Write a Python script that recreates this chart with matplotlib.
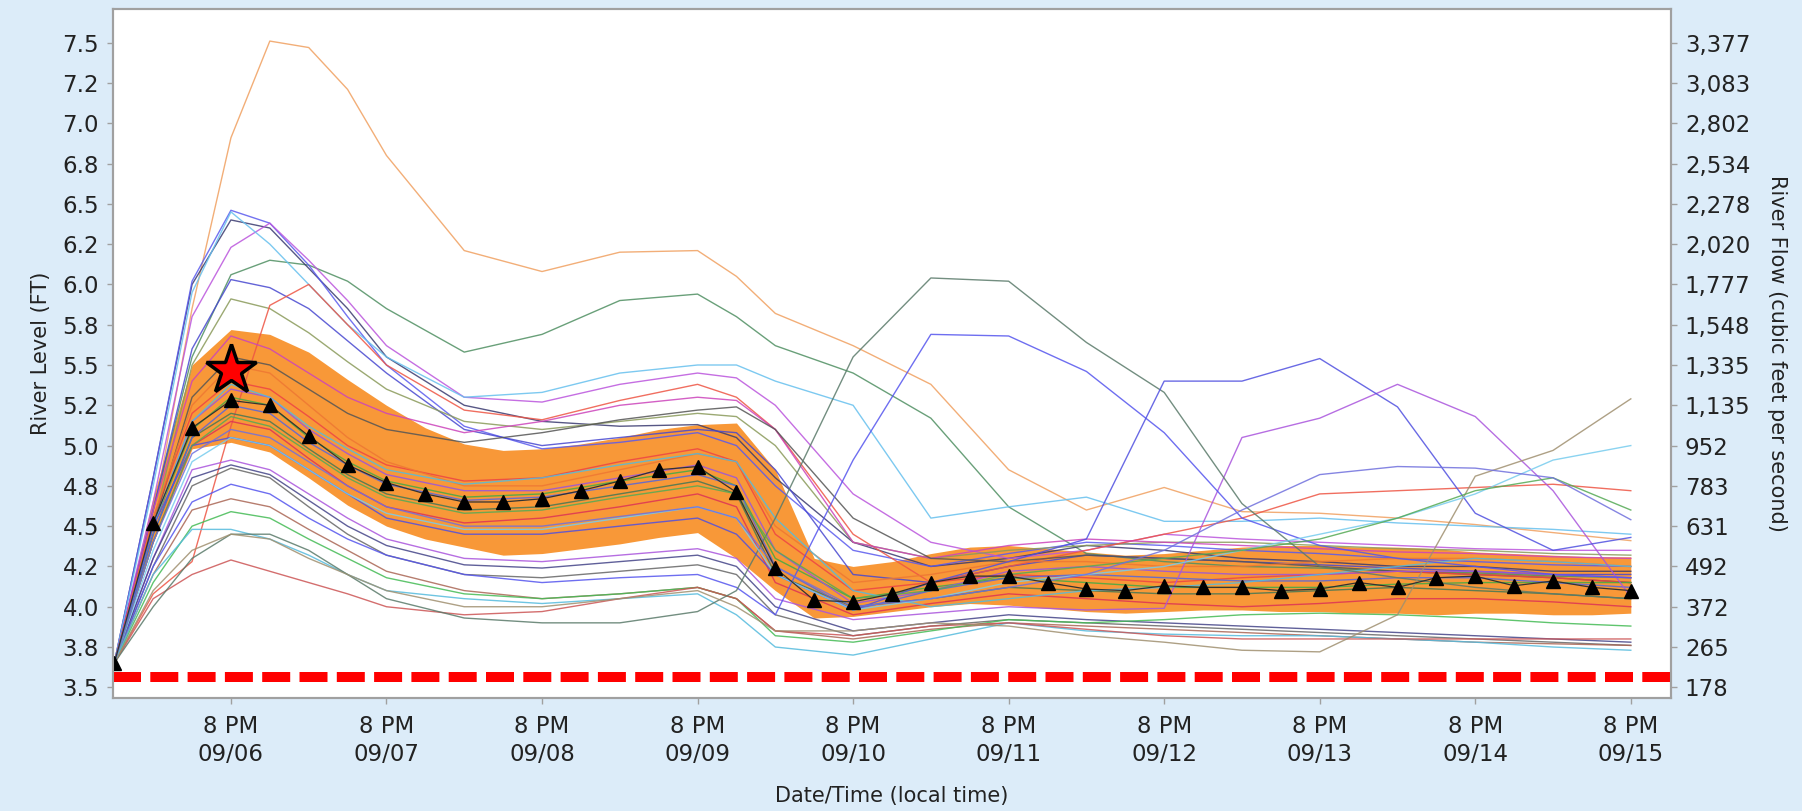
import matplotlib
matplotlib.use("Agg")
import matplotlib.pyplot as plt
from matplotlib.ticker import FormatStrFormatter

plt.rcParams['font.family'] = ['DejaVu Sans']

# hours after 2 AM 09/06, every 6 hours
forecast_hours = list(range(0, 235, 6))
median_level = [3.65, 4.52, 5.11, 5.28, 5.25, 5.06, 4.88, 4.77, 4.70, 4.65,
                4.65, 4.67, 4.72, 4.78, 4.85, 4.87, 4.71, 4.24, 4.04, 4.03,
                4.08, 4.15, 4.19, 4.19, 4.15, 4.11, 4.10, 4.13, 4.12, 4.12,
                4.10, 4.11, 4.15, 4.12, 4.18, 4.19, 4.13, 4.16, 4.12, 4.10]
band_upper = [3.65, 4.68, 5.50, 5.72, 5.69, 5.58, 5.41, 5.25, 5.11, 5.01,
              4.97, 4.98, 5.01, 5.05, 5.10, 5.13, 5.14, 4.85, 4.30, 4.25,
              4.28, 4.33, 4.37, 4.38, 4.36, 4.34, 4.32, 4.33, 4.35, 4.37,
              4.38, 4.38, 4.37, 4.37, 4.36, 4.34, 4.33, 4.32, 4.31, 4.31]
band_lower = [3.65, 4.40, 4.98, 5.02, 4.96, 4.80, 4.63, 4.50, 4.42, 4.37,
              4.32, 4.33, 4.36, 4.39, 4.43, 4.46, 4.30, 4.10, 3.93, 3.94,
              3.97, 4.00, 4.02, 4.01, 3.99, 3.97, 3.96, 3.97, 3.98, 3.98,
              3.97, 3.97, 3.96, 3.96, 3.95, 3.96, 3.96, 3.95, 3.95, 3.96]

# ensemble members
member_hours = [0, 6, 12, 18, 24, 30, 36, 42, 54, 66, 78, 90, 96, 102,
                114, 126, 138, 150, 162, 174, 186, 198, 210, 222, 234]
m_orange_top = [3.65, 4.55, 5.85, 6.91, 7.51, 7.47, 7.21, 6.80, 6.21, 6.08, 6.20, 6.21, 6.05,
                5.82, 5.62, 5.38, 4.85, 4.60, 4.74, 4.59, 4.58, 4.55, 4.51, 4.46, 4.41]
m_green_high = [3.65, 4.60, 5.55, 6.06, 6.15, 6.12, 6.02, 5.85, 5.58, 5.69, 5.90, 5.94, 5.80,
                5.62, 5.45, 5.17, 4.62, 4.33, 4.28, 4.25, 4.24, 4.22, 4.21, 4.19, 4.18]
m_navy = [3.65, 4.80, 6.00, 6.40, 6.35, 6.10, 5.85, 5.55, 5.25, 5.15, 5.12, 5.13, 5.05,
          4.80, 4.40, 4.25, 4.30, 4.38, 4.35, 4.30, 4.28, 4.25, 4.25, 4.22, 4.22]
m_blue = [3.65, 4.80, 6.02, 6.46, 6.38, 6.12, 5.80, 5.50, 5.12, 4.98, 5.02, 5.08, 5.00,
          4.75, 4.35, 4.25, 4.33, 4.40, 4.38, 4.35, 4.33, 4.30, 4.28, 4.26, 4.25]
m_purple = [3.65, 4.65, 5.80, 6.23, 6.38, 6.15, 5.90, 5.62, 5.30, 5.27, 5.38, 5.45, 5.42,
            5.25, 4.70, 4.40, 4.30, 4.35, 4.45, 4.42, 4.40, 4.38, 4.36, 4.35, 4.35]
m_cyan = [3.65, 4.75, 5.95, 6.45, 6.25, 6.00, 5.75, 5.55, 5.30, 5.33, 5.45, 5.50, 5.50,
          5.40, 5.25, 4.55, 4.62, 4.68, 4.53, 4.53, 4.55, 4.52, 4.50, 4.48, 4.45]
m_blue2 = [3.65, 4.60, 5.60, 6.03, 5.98, 5.85, 5.65, 5.45, 5.10, 5.00, 5.05, 5.10, 5.08,
           4.85, 4.20, 4.15, 4.25, 4.32, 4.30, 4.28, 4.26, 4.24, 4.22, 4.20, 4.20]
m_green_brown = [3.65, 4.50, 5.50, 5.91, 5.85, 5.70, 5.52, 5.35, 5.15, 5.10, 5.15, 5.20, 5.18,
                 5.00, 4.40, 4.30, 4.35, 4.38, 4.40, 4.40, 4.38, 4.36, 4.35, 4.33, 4.32]
m_red_late = [3.65, 4.08, 4.28, 5.12, 5.87, 6.00, 5.75, 5.50, 5.22, 5.16, 5.28, 5.38, 5.30,
              5.10, 4.45, 4.15, 4.25, 4.35, 4.45, 4.55, 4.70, 4.72, 4.74, 4.76, 4.72]
m_magenta = [3.65, 4.60, 5.40, 5.68, 5.60, 5.45, 5.30, 5.20, 5.08, 5.15, 5.25, 5.30, 5.28,
             5.10, 4.40, 4.30, 4.38, 4.42, 4.40, 4.38, 4.36, 4.34, 4.33, 4.31, 4.30]
m_grey_dark = [3.65, 4.50, 5.30, 5.55, 5.50, 5.35, 5.20, 5.10, 5.02, 5.08, 5.16, 5.22, 5.24,
               5.10, 4.55, 4.30, 4.28, 4.32, 4.30, 4.28, 4.25, 4.22, 4.20, 4.18, 4.15]
m_red1 = [3.65, 4.55, 5.20, 5.40, 5.35, 5.18, 5.00, 4.88, 4.78, 4.80, 4.90, 4.98, 4.90,
          4.45, 4.10, 4.15, 4.20, 4.18, 4.15, 4.18, 4.20, 4.22, 4.20, 4.18, 4.15]
m_green1 = [3.65, 4.50, 5.10, 5.30, 5.25, 5.05, 4.90, 4.78, 4.68, 4.70, 4.78, 4.85, 4.75,
            4.30, 4.05, 4.12, 4.18, 4.15, 4.12, 4.12, 4.12, 4.14, 4.15, 4.15, 4.15]
m_purple1 = [3.65, 4.50, 5.15, 5.35, 5.30, 5.10, 4.95, 4.82, 4.72, 4.72, 4.80, 4.88, 4.80,
             4.35, 4.02, 4.10, 4.22, 4.25, 4.22, 4.20, 4.20, 4.22, 4.22, 4.20, 4.18]
m_darkgreen1 = [3.65, 4.45, 5.05, 5.20, 5.15, 4.98, 4.82, 4.70, 4.60, 4.62, 4.70, 4.78, 4.70,
                4.20, 4.00, 4.05, 4.12, 4.10, 4.08, 4.08, 4.10, 4.12, 4.10, 4.08, 4.05]
m_orange1 = [3.65, 4.55, 5.25, 5.50, 5.45, 5.25, 5.05, 4.90, 4.75, 4.75, 4.85, 4.95, 4.90,
             4.50, 4.15, 4.20, 4.28, 4.28, 4.25, 4.25, 4.28, 4.30, 4.30, 4.28, 4.25]
m_red2 = [3.65, 4.40, 5.00, 5.15, 5.10, 4.92, 4.75, 4.62, 4.52, 4.55, 4.62, 4.70, 4.62,
          4.15, 3.95, 4.02, 4.08, 4.05, 4.02, 4.00, 4.02, 4.05, 4.05, 4.03, 4.00]
m_blue3 = [3.65, 4.45, 5.05, 5.25, 5.20, 5.02, 4.88, 4.76, 4.66, 4.68, 4.75, 4.82, 4.75,
           4.25, 3.98, 4.10, 4.18, 4.20, 4.18, 4.16, 4.16, 4.18, 4.18, 4.15, 4.12]
m_cyan2 = [3.65, 4.50, 5.15, 5.38, 5.30, 5.12, 4.98, 4.85, 4.76, 4.80, 4.88, 4.95, 4.90,
           4.55, 4.10, 4.00, 4.05, 4.10, 4.12, 4.15, 4.20, 4.25, 4.30, 4.28, 4.25]
m_purple_late = [3.65, 4.30, 4.85, 4.91, 4.85, 4.70, 4.55, 4.42, 4.30, 4.28, 4.32, 4.36, 4.30,
                 4.05, 3.92, 3.96, 4.00, 3.98, 3.99, 5.05, 5.17, 5.38, 5.18, 4.72, 4.06]
m_navy_low = [3.65, 4.30, 4.80, 4.88, 4.82, 4.66, 4.50, 4.38, 4.26, 4.24, 4.28, 4.32, 4.25,
              4.00, 3.85, 3.90, 3.95, 3.92, 3.90, 3.88, 3.86, 3.84, 3.82, 3.80, 3.78]
m_grey_low = [3.65, 4.25, 4.75, 4.86, 4.80, 4.62, 4.45, 4.32, 4.20, 4.18, 4.22, 4.26, 4.20,
              3.95, 3.82, 3.88, 3.92, 3.90, 3.88, 3.86, 3.84, 3.82, 3.80, 3.78, 3.76]
m_blue_mid = [3.65, 4.25, 4.65, 4.76, 4.70, 4.55, 4.42, 4.32, 4.20, 4.15, 4.18, 4.20, 4.12,
              3.95, 4.91, 5.69, 5.68, 5.46, 5.08, 4.55, 4.38, 4.30, 4.25, 4.20, 4.18]
m_brown_low = [3.65, 4.20, 4.60, 4.67, 4.62, 4.48, 4.35, 4.22, 4.10, 4.05, 4.08, 4.12, 4.05,
               3.85, 3.80, 3.86, 3.90, 3.88, 3.86, 3.84, 3.82, 3.80, 3.78, 3.77, 3.76]
m_green_low = [3.65, 4.15, 4.50, 4.59, 4.55, 4.42, 4.30, 4.18, 4.08, 4.05, 4.08, 4.12, 4.05,
               3.82, 3.78, 3.85, 3.92, 3.90, 3.92, 3.95, 3.96, 3.95, 3.93, 3.90, 3.88]
m_cyan_low = [3.65, 4.20, 4.48, 4.48, 4.42, 4.32, 4.20, 4.10, 4.05, 4.02, 4.05, 4.08, 3.95,
              3.75, 3.70, 3.80, 3.90, 3.85, 3.83, 3.82, 3.82, 3.80, 3.78, 3.75, 3.73]
m_red_lowest = [3.65, 4.05, 4.20, 4.29, 4.22, 4.15, 4.08, 4.00, 3.95, 3.97, 4.05, 4.12, 4.05,
                3.85, 3.82, 3.88, 3.90, 3.86, 3.82, 3.80, 3.80, 3.80, 3.80, 3.80, 3.80]
m_slate = [3.65, 4.00, 4.30, 4.45, 4.45, 4.35, 4.20, 4.05, 3.93, 3.90, 3.90, 3.97, 4.10,
           4.55, 5.55, 6.04, 6.02, 5.64, 5.33, 4.64, 4.25, 4.18, 4.12, 4.08, 4.05]
m_blue_late = [3.65, 4.50, 5.00, 5.05, 5.00, 4.85, 4.70, 4.55, 4.45, 4.45, 4.50, 4.55, 4.45,
               4.20, 3.98, 4.15, 4.28, 4.42, 5.40, 5.40, 5.54, 5.24, 4.58, 4.35, 4.43]
m_olive = [3.65, 4.10, 4.35, 4.45, 4.42, 4.30, 4.20, 4.10, 4.00, 4.00, 4.05, 4.10, 4.00,
           3.85, 3.85, 3.90, 3.88, 3.82, 3.78, 3.73, 3.72, 3.95, 4.81, 4.97, 5.29]
m_cyan_end = [3.65, 4.35, 4.90, 5.05, 5.00, 4.85, 4.70, 4.58, 4.48, 4.48, 4.55, 4.62, 4.55,
              4.20, 3.98, 4.05, 4.15, 4.20, 4.25, 4.35, 4.45, 4.55, 4.70, 4.91, 5.00]
m_green_end = [3.65, 4.40, 5.00, 5.18, 5.12, 4.96, 4.80, 4.68, 4.58, 4.60, 4.68, 4.75, 4.70,
               4.35, 4.05, 4.10, 4.20, 4.25, 4.30, 4.35, 4.42, 4.55, 4.72, 4.80, 4.60]
m_violet = [3.65, 4.40, 4.95, 5.10, 5.05, 4.90, 4.75, 4.62, 4.50, 4.50, 4.56, 4.62, 4.55,
            4.25, 4.00, 4.05, 4.12, 4.20, 4.35, 4.60, 4.82, 4.87, 4.86, 4.80, 4.54]

members = [
    (m_orange_top, '#f0a060'), (m_green_high, '#4f8f62'), (m_navy, '#3a3a70'),
    (m_blue, '#5a5aee'), (m_purple, '#bb55dd'), (m_cyan, '#66c0ee'),
    (m_blue2, '#4848d0'), (m_green_brown, '#8a9a5a'), (m_red_late, '#ee5544'),
    (m_magenta, '#cc44bb'), (m_grey_dark, '#555555'), (m_red1, '#ee4444'),
    (m_green1, '#44aa44'), (m_purple1, '#9955dd'), (m_darkgreen1, '#447755'),
    (m_orange1, '#ee7733'), (m_red2, '#dd3355'), (m_blue3, '#5566dd'),
    (m_cyan2, '#55bbdd'), (m_purple_late, '#aa55dd'), (m_navy_low, '#444488'),
    (m_grey_low, '#666666'), (m_blue_mid, '#5555ee'), (m_brown_low, '#aa6655'),
    (m_green_low, '#44bb55'), (m_cyan_low, '#55bbdd'), (m_red_lowest, '#cc5555'),
    (m_slate, '#5a7a6a'), (m_blue_late, '#5050e0'), (m_olive, '#a09070'),
    (m_cyan_end, '#77ccee'), (m_green_end, '#55aa55'), (m_violet, '#7070dd'),
]

observed_hour = 18
observed_level = 5.47
threshold_level = 3.566

level_ticks = [3.5, 3.75, 4.0, 4.25, 4.5, 4.75, 5.0, 5.25, 5.5,
               5.75, 6.0, 6.25, 6.5, 6.75, 7.0, 7.25, 7.5]
flow_cfs = [178, 265, 372, 492, 631, 783, 952, 1135, 1335,
            1548, 1777, 2020, 2278, 2534, 2802, 3083, 3377]
tick_hours = [18, 42, 66, 90, 114, 138, 162, 186, 210, 234]
tick_days = ["09/06", "09/07", "09/08", "09/09", "09/10",
             "09/11", "09/12", "09/13", "09/14", "09/15"]

bg = '#dcecf9'
frame = '#a0a0a0'
txt = '#222222'

fig = plt.figure(figsize=(18.02, 8.11), dpi=100, facecolor=bg)
ax = fig.add_axes([0.0627, 0.139, 0.8646, 0.8495])
ax.set_facecolor('white')

ax.fill_between(forecast_hours, band_lower, band_upper, color='#f89838',
                linewidth=0, zorder=1)
for values, colour in members:
    ax.plot(member_hours, values, color=colour, lw=1.0, alpha=0.85, zorder=2)
ax.plot(forecast_hours, median_level, color='#333333', lw=0.9, zorder=3,
        marker='^', markersize=10, markerfacecolor='black',
        markeredgecolor='black')
ax.axhline(threshold_level, color='#ff0000', lw=7.2, dashes=(2.8, 0.93),
           zorder=4)
ax.plot([observed_hour], [observed_level], marker='*', markersize=38,
        markerfacecolor='#ff0000', markeredgecolor='black',
        markeredgewidth=2.5, zorder=5)

ax.set_xlim(-0.2, 240.2)
ax.set_ylim(3.432, 7.707)
ax.set_yticks(level_ticks)
ax.yaxis.set_major_formatter(FormatStrFormatter('%.1f'))
ax.set_xticks(tick_hours)
ax.set_xticklabels(["8 PM\n" + d for d in tick_days], linespacing=1.3)

ax2 = ax.twinx()
ax2.set_ylim(ax.get_ylim())
ax2.set_yticks(level_ticks)
ax2.set_yticklabels([f"{v:,}" for v in flow_cfs])

for a in (ax, ax2):
    for s in a.spines.values():
        s.set_color(frame)
        s.set_linewidth(1.5)
    a.tick_params(direction='out', length=4, width=1, color=frame,
                  labelsize=16.5, labelcolor=txt, pad=6)
ax.tick_params(axis='x', pad=8)

ax.set_ylabel("River Level (FT)", fontsize=15, color=txt, labelpad=8)
ax2.set_ylabel("River Flow (cubic feet per second)", fontsize=15, color=txt,
               rotation=-90, labelpad=26)
ax.set_xlabel("Date/Time (local time)", fontsize=15, color=txt, labelpad=14)

fig.savefig("out.png", dpi=100, facecolor=bg)
